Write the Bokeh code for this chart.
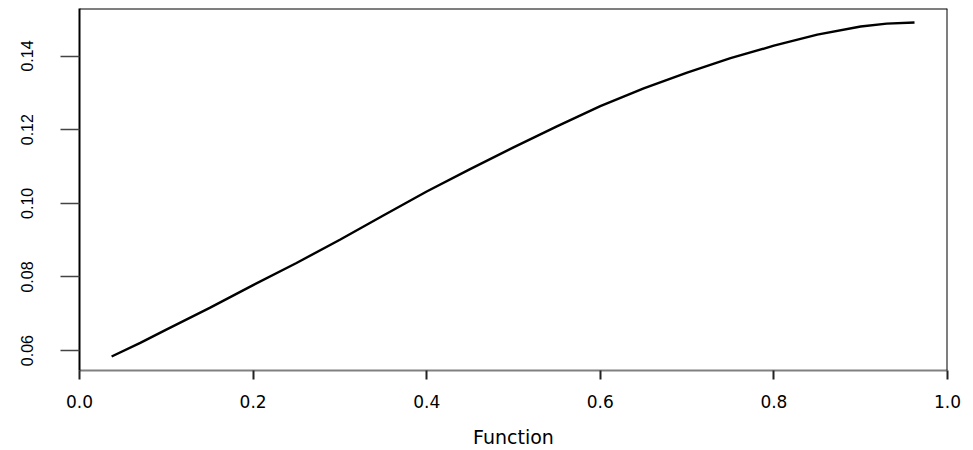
from bokeh.plotting import figure
from bokeh.models import Range1d, FixedTicker, Span
from bokeh.embed import file_html
from bokeh.resources import INLINE

# data
x_vals = [0.037, 0.07, 0.10, 0.15, 0.20, 0.25, 0.30, 0.35, 0.40, 0.45, 0.50,
          0.55, 0.60, 0.65, 0.70, 0.75, 0.80, 0.85, 0.90, 0.93, 0.962]
y_vals = [0.0584, 0.0621, 0.0657, 0.0716, 0.0778, 0.0838, 0.0901, 0.0967, 0.1032, 0.1093, 0.1152,
          0.1209, 0.1264, 0.1312, 0.1355, 0.1394, 0.1428, 0.1458, 0.1480, 0.1488, 0.1491]

x_ticks = [0.0, 0.2, 0.4, 0.6, 0.8, 1.0]
x_tick_labels = ["0.0", "0.2", "0.4", "0.6", "0.8", "1.0"]
y_ticks = [0.06, 0.08, 0.10, 0.12, 0.14]
y_tick_labels = ["0.06", "0.08", "0.10", "0.12", "0.14"]
x_label = "Function"

x_lo, x_hi = 0.0, 1.0
y_lo, y_hi = 0.0546, 0.1529

p = figure(frame_width=868, frame_height=362, output_backend="svg", toolbar_location=None,
           x_range=Range1d(x_lo, x_hi), y_range=Range1d(y_lo, y_hi),
           min_border_left=79, min_border_right=18, min_border_top=8, min_border_bottom=78)
p.outline_line_color = None
p.grid.visible = False
p.background_fill_color = "white"
p.border_fill_color = "white"

p.line(x_vals, y_vals, line_color="black", line_width=2.4)

# x axis
xa = p.xaxis[0]
xa.ticker = FixedTicker(ticks=x_ticks)
xa.major_label_overrides = {t: l for t, l in zip(x_ticks, x_tick_labels)}
xa.minor_tick_line_color = None
xa.axis_line_color = "#808080"
xa.axis_line_width = 2
xa.major_tick_line_color = "#222222"
xa.major_tick_line_width = 2
xa.major_tick_in = 0
xa.major_tick_out = 9
xa.major_label_standoff = 15
xa.major_label_text_font = "DejaVu Sans"
xa.major_label_text_font_size = "17px"
xa.major_label_text_color = "black"
xa.axis_label = x_label
xa.axis_label_standoff = 15
xa.axis_label_text_font = "DejaVu Sans"
xa.axis_label_text_font_size = "19px"
xa.axis_label_text_font_style = "normal"
xa.axis_label_text_color = "black"

# y axis
ya = p.yaxis[0]
ya.ticker = FixedTicker(ticks=y_ticks)
ya.major_label_overrides = {t: l for t, l in zip(y_ticks, y_tick_labels)}
ya.minor_tick_line_color = None
ya.axis_line_color = "black"
ya.axis_line_width = 2
ya.major_tick_line_color = "#444444"
ya.major_tick_line_width = 1.5
ya.major_tick_in = 0
ya.major_tick_out = 19
ya.major_label_standoff = 27
ya.major_label_orientation = "vertical"
ya.major_label_text_font = "Liberation Sans"
ya.major_label_text_font_size = "16px"
ya.major_label_text_color = "black"

# box top and right
p.add_layout(Span(location=y_hi, dimension="width", line_color="black", line_width=2))
p.add_layout(Span(location=x_hi, dimension="height", line_color="black", line_width=2))

open("out.html", "w").write(file_html(p, INLINE))
